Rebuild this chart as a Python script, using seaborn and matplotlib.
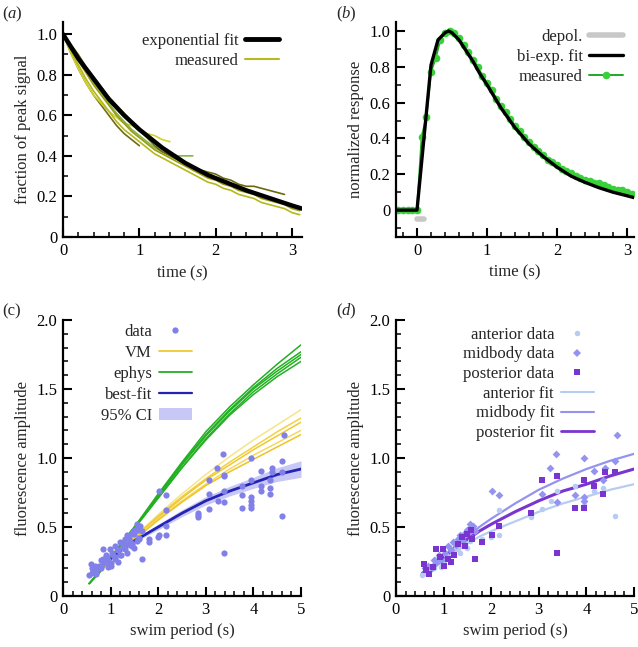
import matplotlib
matplotlib.use("Agg")
import matplotlib.pyplot as plt
from matplotlib.lines import Line2D
from matplotlib.patches import Patch
from matplotlib.ticker import MultipleLocator, FixedLocator
import seaborn as sns

# ---- panel (a): decay traces ----
T_A = [0.0, 0.1, 0.2, 0.3, 0.4, 0.5, 0.6, 0.7, 0.8, 0.9, 1.0, 1.1, 1.2, 1.3, 1.4, 1.5,
       1.6, 1.7, 1.8, 1.9, 2.0, 2.1, 2.2, 2.3, 2.4, 2.5, 2.6, 2.7, 2.8, 2.9, 3.0, 3.1]
TRACE_1 = [1.00, 0.91, 0.83, 0.76, 0.70, 0.65, 0.60, 0.55, 0.51, 0.48, 0.45]
TRACE_2 = [1.00, 0.91, 0.83, 0.76, 0.70, 0.66, 0.62, 0.59, 0.56, 0.55, 0.53, 0.51, 0.50,
           0.48, 0.47]
TRACE_3 = [1.00, 0.94, 0.88, 0.82, 0.76, 0.71, 0.66, 0.61, 0.57, 0.53, 0.50, 0.47, 0.44,
           0.42, 0.41, 0.40, 0.40, 0.40]
TRACE_4 = [1.00, 0.95, 0.90, 0.84, 0.79, 0.74, 0.69, 0.65, 0.61, 0.57, 0.53, 0.49, 0.45,
           0.42, 0.40, 0.38, 0.36, 0.34, 0.33, 0.32, 0.31, 0.29, 0.28, 0.26, 0.25, 0.25,
           0.24, 0.23, 0.22, 0.21]
TRACE_5 = [1.00, 0.92, 0.85, 0.78, 0.72, 0.67, 0.62, 0.57, 0.53, 0.50, 0.47, 0.44, 0.41,
           0.39, 0.37, 0.35, 0.33, 0.31, 0.29, 0.27, 0.26, 0.24, 0.23, 0.21, 0.20, 0.19,
           0.17, 0.16, 0.15, 0.14, 0.12, 0.11]
TRACE_6 = [1.00, 0.94, 0.87, 0.81, 0.75, 0.70, 0.65, 0.60, 0.56, 0.52, 0.49, 0.46, 0.43,
           0.41, 0.39, 0.37, 0.35, 0.33, 0.31, 0.29, 0.28, 0.26, 0.25, 0.23, 0.22, 0.21,
           0.19, 0.18, 0.17, 0.16, 0.14, 0.13]
TRACE_COLORS = ["#6e6e10", "#d2d228", "#7fb848", "#6a6a0c", "#b4b81c", "#9a9a12"]
FIT_A_T = [0.0, 0.1, 0.2, 0.3, 0.4, 0.5, 0.6, 0.7, 0.8, 0.9, 1.0, 1.1, 1.2, 1.3, 1.4, 1.5,
           1.6, 1.7, 1.8, 1.9, 2.0, 2.2, 2.4, 2.6, 2.8, 3.0, 3.13]
FIT_A = [1.0, 0.94, 0.88, 0.83, 0.78, 0.73, 0.68, 0.64, 0.60, 0.565, 0.53, 0.50, 0.47,
         0.44, 0.415, 0.39, 0.365, 0.345, 0.325, 0.305, 0.29, 0.26, 0.23, 0.205, 0.18,
         0.155, 0.14]

# ---- panel (b): response ----
T_B = [-0.267, -0.2, -0.133, -0.067, 0.0, 0.067, 0.133, 0.2, 0.267, 0.333, 0.4, 0.467,
       0.533, 0.6, 0.667, 0.733, 0.8, 0.867, 0.933, 1.0, 1.067, 1.133, 1.2, 1.267, 1.333,
       1.4, 1.467, 1.533, 1.6, 1.667, 1.733, 1.8, 1.867, 1.933, 2.0, 2.067, 2.133, 2.2,
       2.267, 2.333, 2.4, 2.467, 2.533, 2.6, 2.667, 2.733, 2.8, 2.867, 2.933, 3.0, 3.067]
RESP_B = [0, 0, 0, 0, 0, 0.41, 0.52, 0.77, 0.85, 0.95, 0.99, 1.0, 0.99, 0.96, 0.92, 0.88,
          0.84, 0.80, 0.75, 0.71, 0.67, 0.62, 0.58, 0.55, 0.51, 0.47, 0.44, 0.41, 0.38,
          0.35, 0.33, 0.31, 0.28, 0.27, 0.25, 0.23, 0.22, 0.21, 0.19, 0.18, 0.17, 0.16,
          0.15, 0.15, 0.14, 0.13, 0.12, 0.11, 0.11, 0.10, 0.09]
FIT_B_T = [-0.3, 0.0, 0.2, 0.3, 0.4, 0.45, 0.5, 0.6, 0.7, 0.8, 0.9, 1.0, 1.2, 1.4, 1.6,
           1.8, 2.0, 2.2, 2.4, 2.6, 2.8, 3.0, 3.1]
FIT_B = [0, 0, 0.81, 0.95, 0.99, 1.0, 0.99, 0.95, 0.89, 0.83, 0.76, 0.70, 0.57, 0.46,
         0.37, 0.30, 0.24, 0.19, 0.155, 0.125, 0.10, 0.08, 0.07]
DEPOL_T = [0.0, 0.1]
DEPOL_Y = [-0.05, -0.05]

# ---- panels (c)/(d): swim period data ----
ANT_X = [0.55, 0.6, 0.65, 0.7, 0.75, 0.8, 0.85, 0.9, 0.95, 1.0, 1.05, 1.1, 1.15, 1.2, 1.25,
         1.3, 1.35, 1.4, 1.45, 1.5, 1.55, 1.6, 1.8, 2.0, 2.17, 2.17, 2.83, 2.83, 3.07, 3.25,
         3.38, 3.39, 3.76, 3.96, 4.17, 4.35, 4.61]
ANT_Y = [0.15, 0.17, 0.19, 0.18, 0.22, 0.20, 0.27, 0.25, 0.21, 0.24, 0.30, 0.28, 0.33,
         0.30, 0.35, 0.34, 0.31, 0.37, 0.38, 0.35, 0.40, 0.42, 0.41, 0.43, 0.44, 0.62, 0.57,
         0.59, 0.63, 0.69, 0.76, 0.88, 0.80, 0.66, 0.76, 0.78, 0.58]
MID_X = [0.6, 0.68, 0.75, 0.8, 0.85, 0.9, 0.95, 1.02, 1.1, 1.15, 1.2, 1.25, 1.3, 1.35, 1.4,
         1.45, 1.5, 1.55, 1.58, 1.62, 1.65, 2.01, 2.17, 3.07, 3.24, 3.37, 3.39, 3.77, 3.96,
         3.96, 3.96, 4.17, 4.35, 4.40, 4.61, 4.64]
MID_Y = [0.20, 0.22, 0.20, 0.26, 0.24, 0.30, 0.26, 0.31, 0.36, 0.33, 0.39, 0.37, 0.41,
         0.44, 0.40, 0.46, 0.48, 0.52, 0.50, 0.51, 0.47, 0.76, 0.73, 0.74, 0.93, 1.03, 0.68,
         0.735, 1.00, 0.72, 0.69, 0.905, 0.84, 0.93, 0.98, 1.17]
POST_X = [0.58, 0.62, 0.7, 0.78, 0.85, 0.92, 0.98, 1.0, 1.1, 1.15, 1.22, 1.3, 1.38, 1.45,
          1.5, 1.57, 1.6, 1.65, 1.8, 2.01, 2.17, 2.83, 3.07, 3.38, 3.39, 3.77, 3.96, 3.96,
          4.17, 4.35, 4.40, 4.61]
POST_Y = [0.23, 0.19, 0.16, 0.21, 0.34, 0.28, 0.34, 0.22, 0.27, 0.25, 0.30, 0.38, 0.43,
          0.36, 0.45, 0.48, 0.41, 0.27, 0.39, 0.44, 0.505, 0.60, 0.84, 0.87, 0.315, 0.64,
          0.84, 0.64, 0.80, 0.74, 0.895, 0.90]

FIT_X = [0.55, 0.75, 1.0, 1.25, 1.5, 1.75, 2.0, 2.5, 3.0, 3.5, 4.0, 4.5, 5.0]
BEST_FIT = [0.15, 0.20, 0.27, 0.34, 0.40, 0.45, 0.50, 0.60, 0.69, 0.76, 0.82, 0.88, 0.92]
CI_LO = [0.14, 0.19, 0.26, 0.33, 0.39, 0.435, 0.48, 0.575, 0.66, 0.725, 0.78, 0.83, 0.86]
CI_HI = [0.16, 0.21, 0.28, 0.35, 0.41, 0.465, 0.52, 0.625, 0.72, 0.795, 0.86, 0.93, 0.98]
EPHYS = [
    [0.09, 0.17, 0.28, 0.39, 0.50, 0.62, 0.74, 0.97, 1.19, 1.37, 1.53, 1.68, 1.82],
    [0.09, 0.17, 0.28, 0.39, 0.50, 0.61, 0.73, 0.96, 1.17, 1.35, 1.51, 1.65, 1.77],
    [0.09, 0.17, 0.28, 0.39, 0.50, 0.61, 0.72, 0.95, 1.16, 1.34, 1.50, 1.63, 1.75],
    [0.09, 0.17, 0.27, 0.38, 0.49, 0.60, 0.71, 0.93, 1.14, 1.32, 1.48, 1.61, 1.73],
    [0.09, 0.16, 0.27, 0.38, 0.49, 0.60, 0.71, 0.93, 1.13, 1.31, 1.46, 1.59, 1.70],
]
VM_X = [0.7, 1.0, 1.25, 1.5, 1.75, 2.0, 2.5, 3.0, 3.5, 4.0, 4.5, 5.0]
VM = [
    [0.17, 0.27, 0.35, 0.43, 0.51, 0.59, 0.74, 0.88, 1.01, 1.13, 1.24, 1.35],
    [0.17, 0.27, 0.35, 0.43, 0.50, 0.58, 0.72, 0.85, 0.97, 1.08, 1.19, 1.29],
    [0.17, 0.27, 0.35, 0.43, 0.50, 0.57, 0.71, 0.84, 0.95, 1.06, 1.16, 1.26],
    [0.17, 0.27, 0.34, 0.42, 0.49, 0.56, 0.69, 0.81, 0.92, 1.02, 1.11, 1.20],
    [0.17, 0.26, 0.34, 0.41, 0.48, 0.55, 0.68, 0.80, 0.90, 0.99, 1.08, 1.17],
]
VM_COLORS = ["#f6e48a", "#f2d040", "#f0c830", "#f4d860", "#eec228"]
ANT_FIT = [0.15, 0.20, 0.26, 0.32, 0.38, 0.43, 0.47, 0.54, 0.61, 0.67, 0.72, 0.77, 0.81]
MID_FIT = [0.17, 0.22, 0.29, 0.36, 0.43, 0.50, 0.56, 0.67, 0.77, 0.85, 0.92, 0.98, 1.03]
POST_FIT = [0.16, 0.21, 0.28, 0.35, 0.41, 0.47, 0.52, 0.61, 0.69, 0.76, 0.81, 0.87, 0.92]

C_DATA = "#8080e8"
C_ANT, C_MID, C_POST = "#b8ccf2", "#9494f0", "#7a34d0"

sns.set_theme(style="ticks")
plt.rcParams["font.family"] = ["Liberation Serif", "DejaVu Serif"]
plt.rcParams["mathtext.fontset"] = "custom"
plt.rcParams["mathtext.it"] = "Liberation Serif:italic"
plt.rcParams["mathtext.rm"] = "Liberation Serif"
FS = 12

fig = plt.figure(figsize=(6.38, 6.47), dpi=100)
W, H = 638, 647


def add_ax(left, right, top, bottom):
    return fig.add_axes([left / W, 1 - bottom / H, (right - left) / W, (bottom - top) / H])


def style_ax(ax):
    sns.despine(ax=ax)
    for s in ("left", "bottom"):
        ax.spines[s].set_linewidth(1.6)
        ax.spines[s].set_color("black")
    ax.tick_params(which="major", direction="in", length=6.5, width=1.5, labelsize=FS,
                   colors="black", pad=4)
    ax.tick_params(which="minor", direction="in", length=3.5, width=1.3)
    ax.grid(False)


def legend(ax, handles, labels, anchor, spacing=0.25):
    ax.legend(handles, labels, loc="upper right", bbox_to_anchor=anchor, frameon=False,
              markerfirst=False, fontsize=FS, handlelength=2.0, handletextpad=0.4,
              labelspacing=spacing, borderaxespad=0, scatterpoints=1)


# (a)
ax = add_ax(63, 302, 22, 237)
trace_list = [TRACE_1, TRACE_2, TRACE_3, TRACE_4, TRACE_5, TRACE_6]
for vals, col in zip(trace_list, TRACE_COLORS):
    sns.lineplot(x=T_A[:len(vals)], y=vals, ax=ax, color=col, lw=1.2, estimator=None, sort=False)
sns.lineplot(x=FIT_A_T, y=FIT_A, ax=ax, color="black", lw=3.2, estimator=None, sort=False)
ax.set_xlim(0, 3.13)
ax.set_ylim(0, 1.06)
ax.xaxis.set_major_locator(FixedLocator([0, 1, 2, 3]))
ax.xaxis.set_minor_locator(MultipleLocator(0.2))
ax.yaxis.set_major_locator(FixedLocator([0, 0.2, 0.4, 0.6, 0.8, 1.0]))
ax.yaxis.set_minor_locator(MultipleLocator(0.1))
ax.set_xticklabels(["0", "1", "2", "3"])
ax.set_yticklabels(["0", "0.2", "0.4", "0.6", "0.8", "1.0"])
ax.set_xlabel("time ($s$)", fontsize=FS)
ax.set_ylabel("fraction of peak signal", fontsize=FS)
style_ax(ax)
legend(ax, [Line2D([], [], color="black", lw=3.5), Line2D([], [], color="#b8b820", lw=1.5)],
       ["exponential fit", "measured"], (0.93, 0.98))
fig.text(2 / W, 1 - 14 / H, "($a$)", fontsize=FS, va="center")

# (b)
ax = add_ax(396, 634, 22, 237)
sns.lineplot(x=DEPOL_T, y=DEPOL_Y, ax=ax, color="#c8c8c8", lw=4, estimator=None, sort=False)
sns.lineplot(x=T_B, y=RESP_B, ax=ax, color="#22a822", lw=1.4, marker="o", markersize=5.5,
             markerfacecolor="#3ad03a", markeredgewidth=0, estimator=None, sort=False)
sns.lineplot(x=FIT_B_T, y=FIT_B, ax=ax, color="black", lw=2.4, estimator=None, sort=False)
ax.set_xlim(-0.3, 3.1)
ax.set_ylim(-0.15, 1.05)
ax.xaxis.set_major_locator(FixedLocator([0, 1, 2, 3]))
ax.xaxis.set_minor_locator(MultipleLocator(0.2))
ax.yaxis.set_major_locator(FixedLocator([0, 0.2, 0.4, 0.6, 0.8, 1.0]))
ax.yaxis.set_minor_locator(MultipleLocator(0.1))
ax.set_xticklabels(["0", "1", "2", "3"])
ax.set_yticklabels(["0", "0.2", "0.4", "0.6", "0.8", "1.0"])
ax.set_xlabel("time (s)", fontsize=FS)
ax.set_ylabel("normalized response", fontsize=FS)
style_ax(ax)
legend(ax, [Line2D([], [], color="#c8c8c8", lw=4), Line2D([], [], color="black", lw=2.4),
            Line2D([], [], color="#22a822", lw=1.4, marker="o", markersize=5.5,
                   markerfacecolor="#3ad03a", markeredgewidth=0)],
       ["depol.", "bi-exp. fit", "measured"], (0.98, 1.0))
fig.text(336 / W, 1 - 14 / H, "($b$)", fontsize=FS, va="center")

# (c)
ax = add_ax(63, 301, 320, 596)
ax.fill_between(FIT_X, CI_LO, CI_HI, color="#c8c8f6", lw=0)
for vals in EPHYS:
    sns.lineplot(x=FIT_X, y=vals, ax=ax, color="#22b022", lw=1.1, estimator=None, sort=False)
for vals, col in zip(VM, VM_COLORS):
    sns.lineplot(x=VM_X, y=vals, ax=ax, color=col, lw=1.1, estimator=None, sort=False)
sns.lineplot(x=FIT_X, y=BEST_FIT, ax=ax, color="#2424b4", lw=2.0, estimator=None, sort=False)
sns.scatterplot(x=ANT_X + MID_X + POST_X, y=ANT_Y + MID_Y + POST_Y, ax=ax, color=C_DATA,
                s=20, linewidth=0, zorder=3)
ax.set_xlim(0, 5)
ax.set_ylim(0, 2.0)
ax.xaxis.set_major_locator(FixedLocator([0, 1, 2, 3, 4, 5]))
ax.xaxis.set_minor_locator(MultipleLocator(0.2))
ax.yaxis.set_major_locator(FixedLocator([0, 0.5, 1.0, 1.5, 2.0]))
ax.yaxis.set_minor_locator(MultipleLocator(0.1))
ax.set_xticklabels(["0", "1", "2", "3", "4", "5"])
ax.set_yticklabels(["0", "0.5", "1.0", "1.5", "2.0"])
ax.set_xlabel("swim period (s)", fontsize=FS)
ax.set_ylabel("fluorescence amplitude", fontsize=FS)
style_ax(ax)
legend(ax, [Line2D([], [], color=C_DATA, lw=0, marker="o", markersize=4.5, markeredgewidth=0),
            Line2D([], [], color="#f0c830", lw=1.3), Line2D([], [], color="#22b022", lw=1.3),
            Line2D([], [], color="#2424b4", lw=1.6), Patch(color="#c8c8f6", lw=0)],
       ["data", "VM", "ephys", "best-fit", "95% CI"], (0.57, 1.01), spacing=0.3)
fig.text(2 / W, 1 - 311 / H, "(c)", fontsize=FS, va="center")

# (d)
ax = add_ax(396, 634, 320, 596)
sns.lineplot(x=FIT_X, y=ANT_FIT, ax=ax, color=C_ANT, lw=1.6, estimator=None, sort=False)
sns.lineplot(x=FIT_X, y=MID_FIT, ax=ax, color=C_MID, lw=1.6, estimator=None, sort=False)
sns.lineplot(x=FIT_X, y=POST_FIT, ax=ax, color=C_POST, lw=2.2, estimator=None, sort=False)
sns.scatterplot(x=ANT_X, y=ANT_Y, ax=ax, color=C_ANT, marker="o", s=16, linewidth=0, zorder=3)
sns.scatterplot(x=MID_X, y=MID_Y, ax=ax, color=C_MID, marker="D", s=16, linewidth=0, zorder=3)
sns.scatterplot(x=POST_X, y=POST_Y, ax=ax, color=C_POST, marker="s", s=16, linewidth=0, zorder=3)
ax.set_xlim(0, 5)
ax.set_ylim(0, 2.0)
ax.xaxis.set_major_locator(FixedLocator([0, 1, 2, 3, 4, 5]))
ax.xaxis.set_minor_locator(MultipleLocator(0.2))
ax.yaxis.set_major_locator(FixedLocator([0, 0.5, 1.0, 1.5, 2.0]))
ax.yaxis.set_minor_locator(MultipleLocator(0.1))
ax.set_xticklabels(["0", "1", "2", "3", "4", "5"])
ax.set_yticklabels(["0", "0.5", "1.0", "1.5", "2.0"])
ax.set_xlabel("swim period (s)", fontsize=FS)
ax.set_ylabel("fluorescence amplitude", fontsize=FS)
style_ax(ax)
legend(ax, [Line2D([], [], color=C_ANT, lw=0, marker="o", markersize=4, markeredgewidth=0),
            Line2D([], [], color=C_MID, lw=0, marker="D", markersize=4, markeredgewidth=0),
            Line2D([], [], color=C_POST, lw=0, marker="s", markersize=4, markeredgewidth=0),
            Line2D([], [], color=C_ANT, lw=1.5), Line2D([], [], color=C_MID, lw=1.5),
            Line2D([], [], color=C_POST, lw=2.0)],
       ["anterior data", "midbody data", "posterior data", "anterior fit", "midbody fit",
        "posterior fit"], (0.86, 1.0), spacing=0.22)
fig.text(336 / W, 1 - 311 / H, "($d$)", fontsize=FS, va="center")

fig.savefig("out.png", dpi=100)
